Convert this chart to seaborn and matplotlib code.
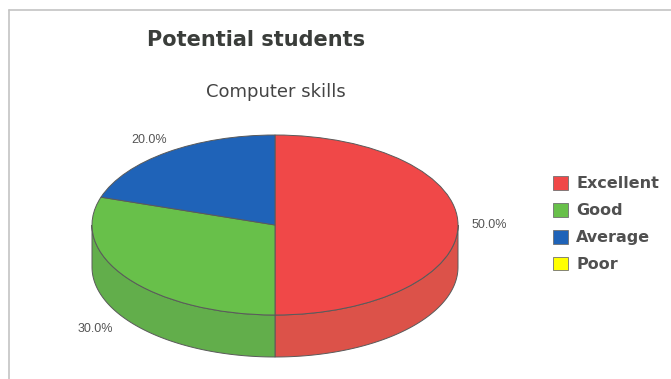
import matplotlib
matplotlib.use("Agg")
import matplotlib.pyplot as plt
from matplotlib.patches import Polygon, Patch
from matplotlib.lines import Line2D
import numpy as np
import seaborn as sns

# Data
categories = ["Excellent", "Good", "Average", "Poor"]
shares = [50.0, 30.0, 20.0, 0.0]
top_colors = ["#F04848", "#68C04A", "#1F63B8", "#FFFF00"]
side_colors = ["#DC5249", "#62AE4B", "#1C5AA3", "#E6E600"]
title = "Potential students"
subtitle = "Computer skills"

sns.set_theme(style="white")
plt.rcParams["font.family"] = ["DejaVu Sans"]

W, H = 671, 379
fig = plt.figure(figsize=(W / 100, H / 100), dpi=100)
fig.patch.set_facecolor("white")

# Pie placement (pixels from top-left) and tilt
cx, cy = 275, 225
rx, ry = 183, 90
depth = 42 / ry
edge = "#5a5a5a"

ax = fig.add_axes([0, 0, 1, 1])
ax.set_facecolor("white")

vals = [v for v in shares if v > 0]
cols = [c for v, c in zip(shares, top_colors) if v > 0]
sides = [c for v, c in zip(shares, side_colors) if v > 0]

wedges, texts, autotexts = ax.pie(
    vals, colors=cols, startangle=90, counterclock=False,
    autopct="%1.1f%%", pctdistance=1.17,
    wedgeprops=dict(edgecolor=edge, linewidth=0.7, zorder=3),
    textprops=dict(color="#555555", fontsize=9, family=["Liberation Sans"]),
)

# Extruded side walls for the front half of the disc
for w, sc in zip(wedges, sides):
    t1, t2 = w.theta1, w.theta2
    for off in (-360, 0, 360):
        a = max(t1 + off, 180)
        b = min(t2 + off, 360)
        if b > a:
            t = np.radians(np.linspace(a, b, 120))
            xs, ys = np.cos(t), np.sin(t)
            pts = np.column_stack([np.r_[xs, xs[::-1]],
                                   np.r_[ys, ys[::-1] - depth]])
            ax.add_patch(Polygon(pts, closed=True, facecolor=sc,
                                 edgecolor=edge, linewidth=0.7, zorder=2))

# Labels on the front face drop below the wall
for at in autotexts:
    x, y = at.get_position()
    if y < -0.1:
        at.set_position((x * 1.04, y - depth))

ax.set_aspect("auto")
ax.set_xlim(-cx / rx, (W - cx) / rx)
ax.set_ylim(-(H - cy) / ry, cy / ry)
ax.axis("off")

# Titles
fig.text(256 / W, 1 - 40 / H, title, ha="center", va="center",
         fontsize=15, fontweight="bold", color="#3a3d3a")
fig.text(276 / W, 1 - 92 / H, subtitle, ha="center", va="center",
         fontsize=13, color="#444444")

# Legend
handles = [Patch(facecolor=c, edgecolor="#707070", linewidth=0.6)
           for c in top_colors]
leg = fig.legend(handles, categories, loc="upper left",
                 bbox_to_anchor=(553 / W, 1 - 176 / H),
                 frameon=False, borderpad=0, borderaxespad=0,
                 handlelength=0.95, handleheight=0.95, handletextpad=0.5,
                 labelspacing=0.72, prop=dict(weight="bold", size=11.5))
for t in leg.get_texts():
    t.set_color("#505050")

# Chart frame (top and left edges)
fig.add_artist(Line2D([9 / W, 1], [1 - 10 / H, 1 - 10 / H],
                      transform=fig.transFigure, color="#c4c4c4", lw=1.2))
fig.add_artist(Line2D([9 / W, 9 / W], [0, 1 - 10 / H],
                      transform=fig.transFigure, color="#c4c4c4", lw=1.2))

fig.savefig("out.png", dpi=100, facecolor="white")
